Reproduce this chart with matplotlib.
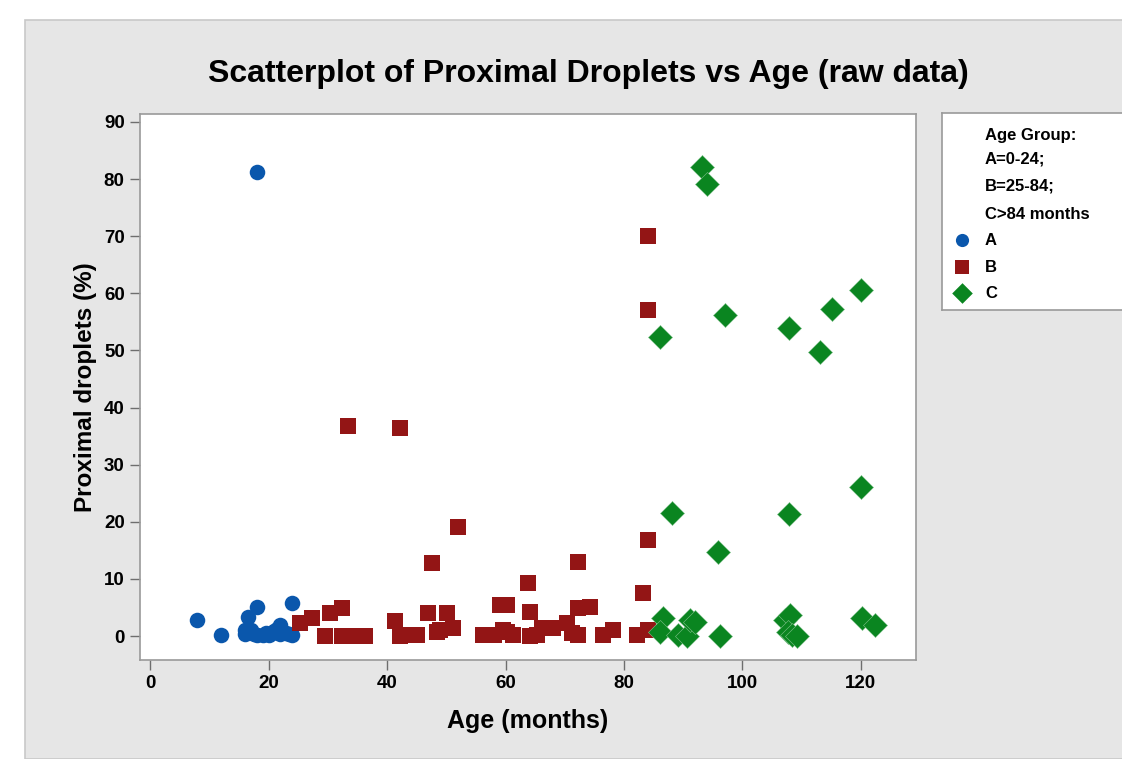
import matplotlib
matplotlib.use('Agg')
from matplotlib import pyplot as plt
from matplotlib.patches import Rectangle

plt.rcParams['font.family'] = ['Liberation Sans', 'DejaVu Sans']
plt.rcParams['font.weight'] = 'bold'

# group A: 0-24 months
age_a = [8, 12, 16, 16.5, 17, 18, 18, 18, 19, 20, 20.5, 21, 21.5, 22, 22, 23, 24, 24, 16, 17.5, 19.5, 23.5]
drop_a = [2.8, 0.2, 0.3, 3.3, 1.0, 81.2, 5.1, 0.2, 0.1, 0.2, 0.5, 0.8, 1.2, 2.0, 0.3, 0.5, 5.8, 0.2, 1.0, 0.4, 0.6, 0.3]

# group B: 25-84 months
age_b = [25.3, 27.3, 30.4, 32.4, 29.5, 32.4, 33.8, 36.3, 41.3, 42.2, 33.4, 42.2,
         43.4, 45, 47, 50.1, 48.4, 51.2, 59, 60.3, 56.2, 58, 59.6, 61.3,
         47.6, 52, 63.8, 72.2, 64.1, 72.2, 74.3, 60.3, 64.1, 66.2, 68, 65.3,
         70.3, 71.2, 72.2, 76.5, 78.2, 83.2, 82.2, 84, 84, 84, 84, 44, 49, 57]
drop_b = [2.3, 3.2, 4.0, 4.9, 0, 0, 0, 0, 2.6, 0, 36.8, 36.4,
          0.2, 0.2, 4.0, 4.0, 0.7, 1.4, 5.4, 5.4, 0.2, 0.2, 1.0, 0.2,
          12.8, 19.1, 9.3, 13.0, 4.2, 4.9, 5.1, 0.7, 0, 1.4, 1.4, 0.2,
          2.3, 0.5, 0.2, 0.2, 1.0, 7.5, 0.2, 1.0, 70.0, 57.1, 16.8, 0.1, 1.0, 0.1]

# group C: >84 months
age_c = [93.2, 94, 120, 115.1, 97, 107.8, 86.1, 113.1, 120, 88.1, 107.8, 95.9,
         86.6, 86.1, 89.1, 90.6, 91.1, 92, 96.2, 107.2, 108, 107.7, 108.4, 109.2, 120.2, 122.4]
drop_c = [82.1, 79.1, 60.6, 57.3, 56.2, 53.9, 52.4, 49.7, 26.1, 21.5, 21.4, 14.7,
          3.2, 0.7, 0.2, 0.0, 2.8, 2.5, 0.0, 2.8, 3.7, 0.7, 0.1, 0.0, 3.2, 1.9]

blue = '#0A57AC'
red = '#931515'
green = '#0A8520'

fig = plt.figure(figsize=(11.22, 7.59), dpi=100)
fig.patch.set_facecolor('white')
fig.patches.append(Rectangle((0.0223, 0), 1.0, 0.9737, transform=fig.transFigure,
                             facecolor='#E6E6E6', edgecolor='#C8C8C8', lw=1.2, zorder=-10))

ax = fig.add_axes([0.1248, 0.1304, 0.6916, 0.7194])
ax.set_facecolor('white')
ax.scatter(age_a, drop_a, s=125, marker='o', color=blue, linewidths=0, zorder=3)
ax.scatter(age_b, drop_b, s=130, marker='s', color=red, linewidths=0, zorder=3)
ax.scatter(age_c, drop_c, s=150, marker='D', color=green, edgecolors='#7FC08A', linewidths=0.4, zorder=3)

ax.set_xlim(-1.7, 129.3)
ax.set_ylim(-4.2, 91.4)
ax.set_xticks(range(0, 121, 20))
ax.set_yticks(range(0, 91, 10))
ax.tick_params(direction='out', length=7, width=1, color='#6E6E6E', labelsize=13.5, pad=4)
for lab in ax.get_xticklabels() + ax.get_yticklabels():
    lab.set_fontweight('bold')
for sp in ax.spines.values():
    sp.set_color('#9A9A9A')
    sp.set_linewidth(1.2)

ax.set_xlabel('Age (months)', fontsize=18, fontweight='bold', labelpad=12)
ax.set_ylabel('Proximal droplets (%)', fontsize=17.5, fontweight='bold', labelpad=5)
fig.text(0.524, 0.903, 'Scatterplot of Proximal Droplets vs Age (raw data)',
         ha='center', va='center', fontsize=23, fontweight='bold')

# legend panel
lg = fig.add_axes([0.8396, 0.5916, 0.17, 0.2595])
lg.set_xlim(0, 1)
lg.set_ylim(0, 1)
lg.set_xticks([])
lg.set_yticks([])
lg.set_facecolor('white')
for sp in lg.spines.values():
    sp.set_color('#9A9A9A')
    sp.set_linewidth(1.2)
lg.spines['right'].set_visible(False)

title_lines = ['Age Group:', 'A=0-24;', 'B=25-84;', 'C>84 months']
labels = ['A', 'B', 'C']
markers = ['o', 's', 'D']
colors = [blue, red, green]
ty = [0.885, 0.764, 0.627, 0.485]
for t, yy in zip(title_lines, ty):
    lg.text(0.225, yy, t, fontsize=12, fontweight='bold', va='center', ha='left')
ly = [0.355, 0.218, 0.086]
for lab, m, c, yy in zip(labels, markers, colors, ly):
    lg.scatter([0.107], [yy], s=90 if m != 'D' else 110, marker=m, color=c, linewidths=0)
    lg.text(0.225, yy, lab, fontsize=12, fontweight='bold', va='center', ha='left')

fig.savefig('out.png', dpi=100)
